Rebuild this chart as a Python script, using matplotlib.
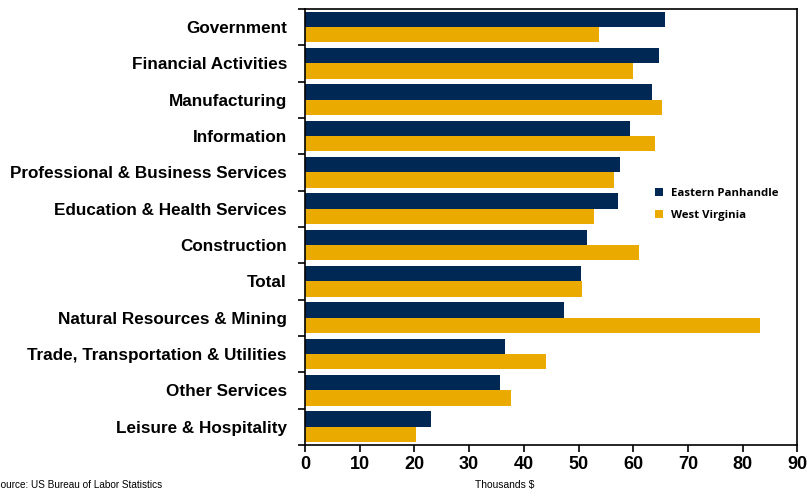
import matplotlib
matplotlib.use("Agg")
from matplotlib import pyplot as plt
import numpy as np

# data (thousands of dollars)
categories = ['Government', 'Financial Activities', 'Manufacturing', 'Information',
              'Professional & Business Services', 'Education & Health Services',
              'Construction', 'Total', 'Natural Resources & Mining',
              'Trade, Transportation & Utilities', 'Other Services', 'Leisure & Hospitality']
eastern_panhandle = [65.9, 64.7, 63.4, 59.5, 57.5, 57.2, 51.5, 50.4, 47.3, 36.6, 35.6, 23.0]
west_virginia = [53.7, 60.0, 65.3, 63.9, 56.5, 52.9, 61.0, 50.6, 83.1, 44.0, 37.7, 20.3]
xticks = [0, 10, 20, 30, 40, 50, 60, 70, 80, 90]

navy = '#002855'
gold = '#EAAA00'

fig = plt.figure(figsize=(8.07, 4.96), dpi=100)
ax = fig.add_axes([0.378, 0.103, 0.610, 0.879])

y = np.arange(len(categories))
h = 0.42
ax.barh(y - h/2, eastern_panhandle, height=h, color=navy, label='Eastern Panhandle')
ax.barh(y + h/2, west_virginia, height=h, color=gold, label='West Virginia')

ax.set_ylim(len(categories) - 0.5, -0.5)
ax.set_xlim(0, 90)
ax.set_yticks(y)
ax.set_yticklabels(categories, fontsize=12.3, fontweight='bold', family=['Liberation Sans', 'DejaVu Sans'])
ax.set_yticks(np.arange(len(categories) + 1) - 0.5, minor=True)
ax.tick_params(axis='y', which='major', length=0, pad=13)
ax.tick_params(axis='y', which='minor', length=5, width=1.2, direction='out')

ax.set_xticks(xticks)
ax.set_xticklabels([str(t) for t in xticks], fontsize=13, fontweight='bold',
                   family=['Liberation Sans Narrow', 'Liberation Sans', 'DejaVu Sans'])
ax.tick_params(axis='x', length=5, width=1.2, direction='out', pad=3)

for s in ax.spines.values():
    s.set_linewidth(1.2)
    s.set_color('black')

ax.legend(loc='upper left', bbox_to_anchor=(0.69, 0.612), frameon=False,
          handlelength=0.7, handleheight=0.7, handletextpad=0.7, labelspacing=0.95,
          prop={'family': ['Open Sans', 'DejaVu Sans'], 'weight': 'bold', 'size': 8.2})

fig.text(0.626, 0.012, 'Thousands $', ha='center', va='bottom', fontsize=7.4,
         family=['Liberation Sans Narrow', 'Liberation Sans', 'DejaVu Sans'])
fig.text(-0.008, 0.012, 'Source: US Bureau of Labor Statistics', ha='left', va='bottom', fontsize=7.2,
         family=['Liberation Sans Narrow', 'Liberation Sans', 'DejaVu Sans'])

fig.savefig('out.png', dpi=100)
